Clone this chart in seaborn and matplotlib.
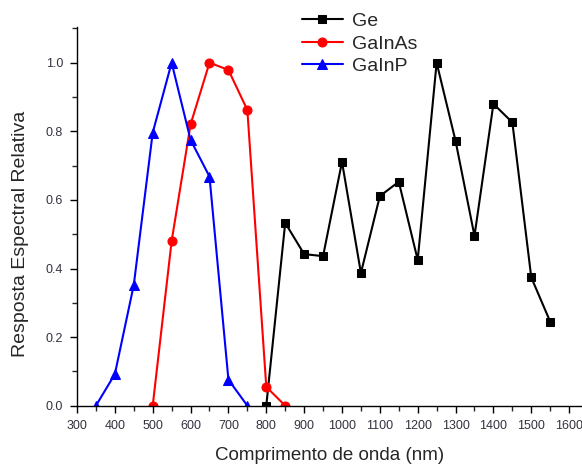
import numpy as np
import pandas as pd
import matplotlib
matplotlib.use("Agg")
import matplotlib.pyplot as plt
import seaborn as sns
from matplotlib.ticker import MultipleLocator

# dados
ge_nm = [800, 850, 900, 950, 1000, 1050, 1100, 1150, 1200, 1250, 1300, 1350, 1400, 1450, 1500, 1550]
ge_resp = [0.0, 0.533, 0.442, 0.436, 0.711, 0.387, 0.611, 0.653, 0.425, 1.0, 0.772, 0.495, 0.880, 0.826, 0.374, 0.245]

gainas_nm = [500, 550, 600, 650, 700, 750, 800, 850]
gainas_resp = [0.0, 0.480, 0.820, 1.0, 0.979, 0.862, 0.055, 0.0]

gainp_nm = [350, 400, 450, 500, 550, 600, 650, 700, 750]
gainp_resp = [0.0, 0.092, 0.352, 0.796, 1.0, 0.775, 0.668, 0.076, 0.0]

sns.set_style("ticks")
plt.rcParams['font.family'] = ['Liberation Sans', 'DejaVu Sans']

fig = plt.figure(figsize=(5.82, 4.65), dpi=100)
ax = fig.add_axes([0.1323, 0.1275, 1 - 0.1323, 0.8151])

series = [
    ("Ge", ge_nm, ge_resp, "black", "s", 6),
    ("GaInAs", gainas_nm, gainas_resp, "red", "o", 6.5),
    ("GaInP", gainp_nm, gainp_resp, "blue", "^", 7),
]
for name, x, y, cor, mk, ms in series:
    df = pd.DataFrame({"x": x, "y": y})
    sns.lineplot(data=df, x="x", y="y", ax=ax, color=cor, marker=mk,
                 markersize=ms, markeredgecolor=cor, linewidth=1.5, label=name)

ax.set_xlim(300, 1634)
ax.set_ylim(0, 1.105)
ax.xaxis.set_major_locator(MultipleLocator(100))
ax.xaxis.set_minor_locator(MultipleLocator(50))
ax.yaxis.set_major_locator(MultipleLocator(0.2))
ax.yaxis.set_minor_locator(MultipleLocator(0.1))
ax.yaxis.set_major_formatter(matplotlib.ticker.FormatStrFormatter('%.1f'))

ax.tick_params(which='major', direction='out', length=5, width=1, labelsize=9,
               labelcolor='#333340', colors='black', pad=5)
ax.tick_params(which='minor', direction='out', length=3.5, width=1)
for s in ['top', 'right']:
    ax.spines[s].set_visible(False)
for s in ['left', 'bottom']:
    ax.spines[s].set_linewidth(1)
    ax.spines[s].set_color('black')

ax.set_xlabel("Comprimento de onda (nm)", fontsize=13.5, labelpad=11)
ax.set_ylabel("Resposta Espectral Relativa", fontsize=14)
ax.yaxis.set_label_coords(-0.0945, 0.453)

leg = ax.legend(loc='upper left', bbox_to_anchor=(0.505, 0.99), bbox_transform=fig.transFigure,
                frameon=False, fontsize=14, handlelength=2.1, labelspacing=0.25,
                handletextpad=0.5, borderaxespad=0)

fig.savefig("out.png", dpi=100)
